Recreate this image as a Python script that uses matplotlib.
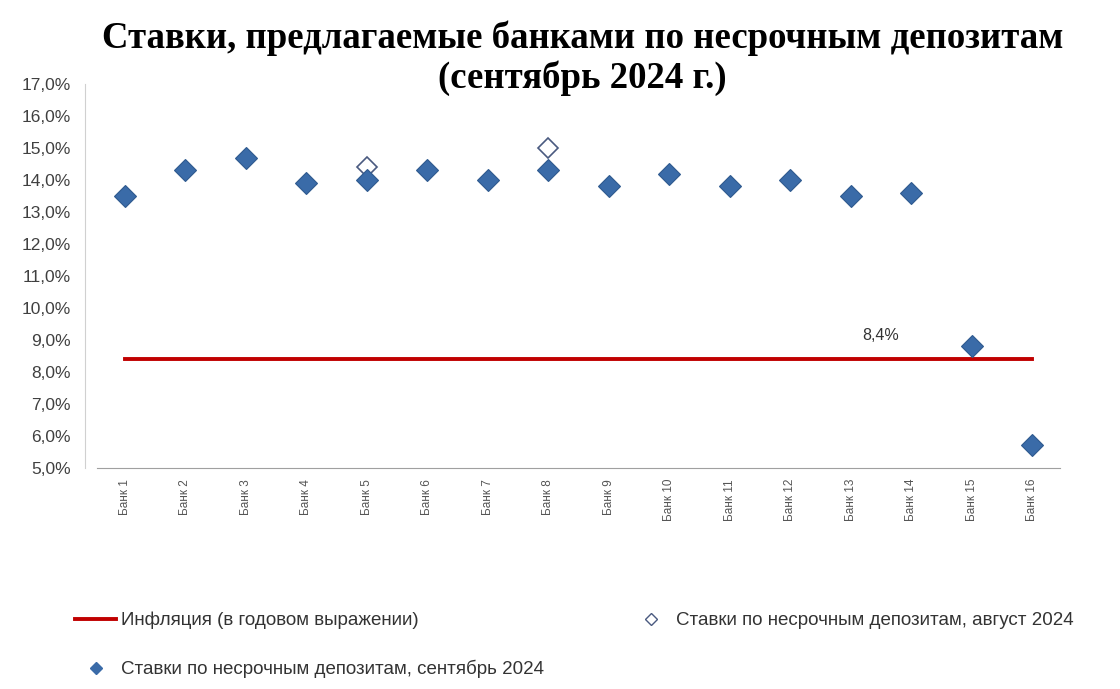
import matplotlib
matplotlib.use('Agg')
import matplotlib.pyplot as plt
from matplotlib.ticker import FuncFormatter
from matplotlib.lines import Line2D

banks = ['Банк 1', 'Банк 2', 'Банк 3', 'Банк 4', 'Банк 5', 'Банк 6', 'Банк 7', 'Банк 8',
         'Банк 9', 'Банк 10', 'Банк 11', 'Банк 12', 'Банк 13', 'Банк 14', 'Банк 15', 'Банк 16']
rates_sep = [13.5, 14.3, 14.7, 13.9, 14.0, 14.3, 14.0, 14.3,
             13.8, 14.2, 13.8, 14.0, 13.5, 13.6, 8.8, 5.7]
aug_banks = ['Банк 5', 'Банк 8']
rates_aug = [14.4, 15.0]
inflation = 8.4

title = 'Ставки, предлагаемые банками по несрочным депозитам\n(сентябрь 2024 г.)'
lbl_infl = 'Инфляция (в годовом выражении)'
lbl_aug = 'Ставки по несрочным депозитам, август 2024'
lbl_sep = 'Ставки по несрочным депозитам, сентябрь 2024'

plt.rcParams['font.family'] = ['Liberation Sans', 'DejaVu Sans']

fig = plt.figure(figsize=(11.2, 6.89), dpi=100)
ax = fig.add_axes([0.087, 0.321, 0.859, 0.557])

x = list(range(len(banks)))
x_aug = [banks.index(b) for b in aug_banks]

ax.plot(x, [inflation] * len(x), color='#C00000', lw=2.8, zorder=1)
ax.plot(x, rates_sep, 'D', ms=11, color='#3A6BA8', mec='#2F5A8F', mew=0.8, zorder=3)
ax.plot(x_aug, rates_aug, 'D', ms=10.5, mfc='white', mec='#4A5A80', mew=1.2, zorder=2)
ax.text(x[-3] - 0.5, inflation + 0.75, '8,4%', fontsize=11.5, color='#333333',
        ha='center', va='center')

ax.set_xlim(-0.45, len(banks) - 0.55)
ax.set_ylim(5, 17)
ax.set_yticks(range(5, 18))
ax.yaxis.set_major_formatter(FuncFormatter(lambda v, p: f'{v:.1f}%'.replace('.', ',')))
ax.set_xticks(x)
ax.set_xticklabels(banks, rotation=90, fontsize=8.5, color='#555555')
ax.tick_params(axis='y', labelsize=12.5, labelcolor='#404040', length=0, pad=10)
ax.tick_params(axis='x', length=0, pad=8)
for s in ['top', 'right']:
    ax.spines[s].set_visible(False)
ax.spines['left'].set_color('#D0D0D0')
ax.spines['bottom'].set_color('#A0A0A0')
ax.spines['left'].set_position(('outward', 9))

fig.text(0.52, 0.97, title, ha='center', va='top', family='Liberation Serif',
         fontweight='bold', fontsize=26.5, linespacing=1.15)

handles = [Line2D([], [], color='#C00000', lw=2.8),
           Line2D([], [], marker='D', ls='none', ms=6, color='#3A6BA8'),
           Line2D([], [], marker='D', ls='none', ms=6, mfc='white', mec='#4A5A80', mew=1)]
fig.legend(handles, [lbl_infl, lbl_sep, lbl_aug], ncol=2, loc='lower left',
           bbox_to_anchor=(0.052, -0.009), frameon=False, fontsize=13.5, handlelength=2.2,
           handletextpad=0.25, columnspacing=4.6, labelspacing=1.65, labelcolor='#333333')

fig.savefig('out.png', dpi=100)
